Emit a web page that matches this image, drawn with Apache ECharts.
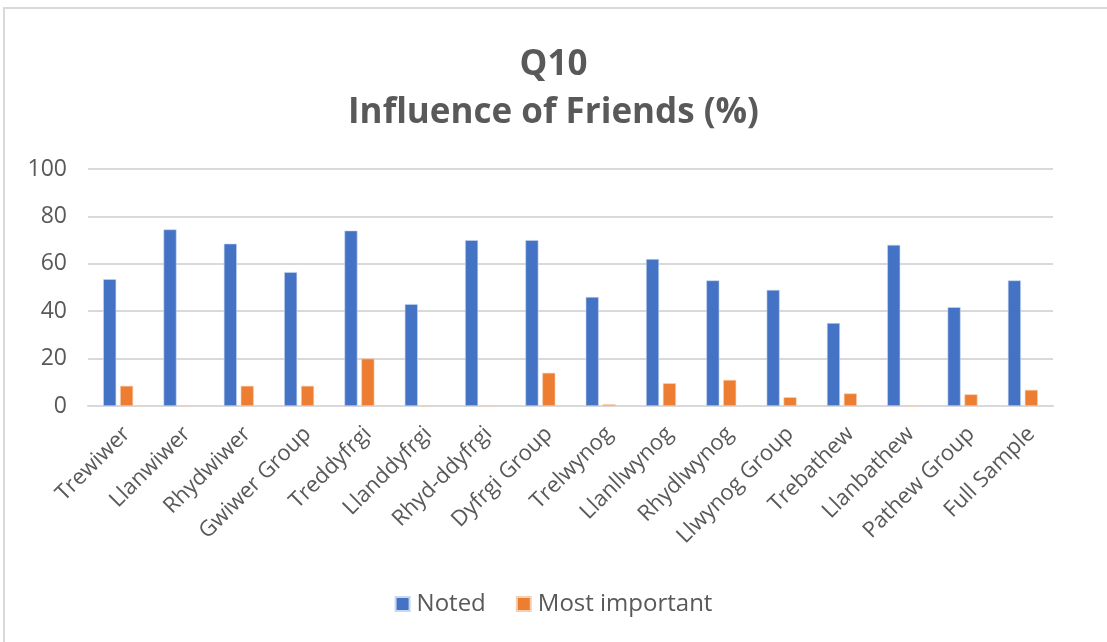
<!DOCTYPE html>
<html><head><meta charset="utf-8">
<script src="https://cdn.jsdelivr.net/npm/echarts@6/dist/echarts.min.js"></script>
<style>html,body{margin:0;padding:0;background:#fff}#c{width:1107px;height:642px}</style>
</head><body><div id="c"></div>
<script>
const categories = ["Trewiwer","Llanwiwer","Rhydwiwer","Gwiwer Group","Treddyfrgi","Llanddyfrgi","Rhyd-ddyfrgi","Dyfrgi Group","Trelwynog","Llanllwynog","Rhydlwynog","Llwynog Group","Trebathew","Llanbathew","Pathew Group","Full Sample"];
const noted = [53.5,74.5,68.5,56.5,74,43,70,70,46,62,53,49,35,68,41.7,53];
const mostImportant = [8.5,0,8.5,8.5,20,0,0,14,0.7,9.6,11,3.7,5.3,0,4.9,6.8];
const yTicks = [0,20,40,60,80,100];

const chart = echarts.init(document.getElementById('c'), null, {renderer:'canvas'});
const font = '"Open Sans", "Noto Sans", sans-serif';
chart.setOption({
  animation:false,
  backgroundColor:'#fff',
  graphic:[{type:'rect',shape:{x:4,y:8,width:1200,height:700},style:{fill:'none',stroke:'#d9d9d9',lineWidth:2},silent:true}],
  title:{text:'Q10\nInfluence of Friends (%)',left:'center',top:36,
    textStyle:{fontFamily:font,fontWeight:'bold',fontSize:35,color:'#595959',lineHeight:48}},
  legend:{bottom:21,left:'center',itemWidth:14,itemHeight:14,itemGap:30,icon:'rect',
    textStyle:{fontFamily:font,fontSize:24,color:'#595959',padding:[0,0,0,2]},data:['Noted','Most important']},
  grid:{left:88,right:54,top:169,bottom:236,containLabel:false},
  xAxis:{type:'category',data:categories,
    axisLine:{lineStyle:{color:'#d9d9d9',width:2}},axisTick:{show:false},
    axisLabel:{rotate:45,interval:0,fontFamily:font,fontSize:22,color:'#595959',margin:16,
      formatter:v=>'{a|'+v+'}',
      rich:{a:{fontFamily:font,fontSize:22,color:'#595959',lineHeight:46,verticalAlign:'bottom'}}}},
  yAxis:{type:'value',min:0,max:100,interval:20,
    axisLine:{show:false},axisTick:{show:false},
    splitLine:{lineStyle:{color:'#d9d9d9',width:2}},
    axisLabel:{fontFamily:font,fontSize:23,color:'#595959',margin:21,
      formatter:v=>yTicks.includes(v)?String(v):''}},
  series:[
    {name:'Noted',type:'bar',data:noted,barWidth:13,barGap:'30%',
     itemStyle:{color:'#4472c4',borderColor:'#c9d6f0',borderWidth:0.6}},
    {name:'Most important',type:'bar',data:mostImportant,barWidth:13,
     itemStyle:{color:'#ed7d31',borderColor:'#f8cfb3',borderWidth:0.6}}
  ]
});
</script></body></html>
